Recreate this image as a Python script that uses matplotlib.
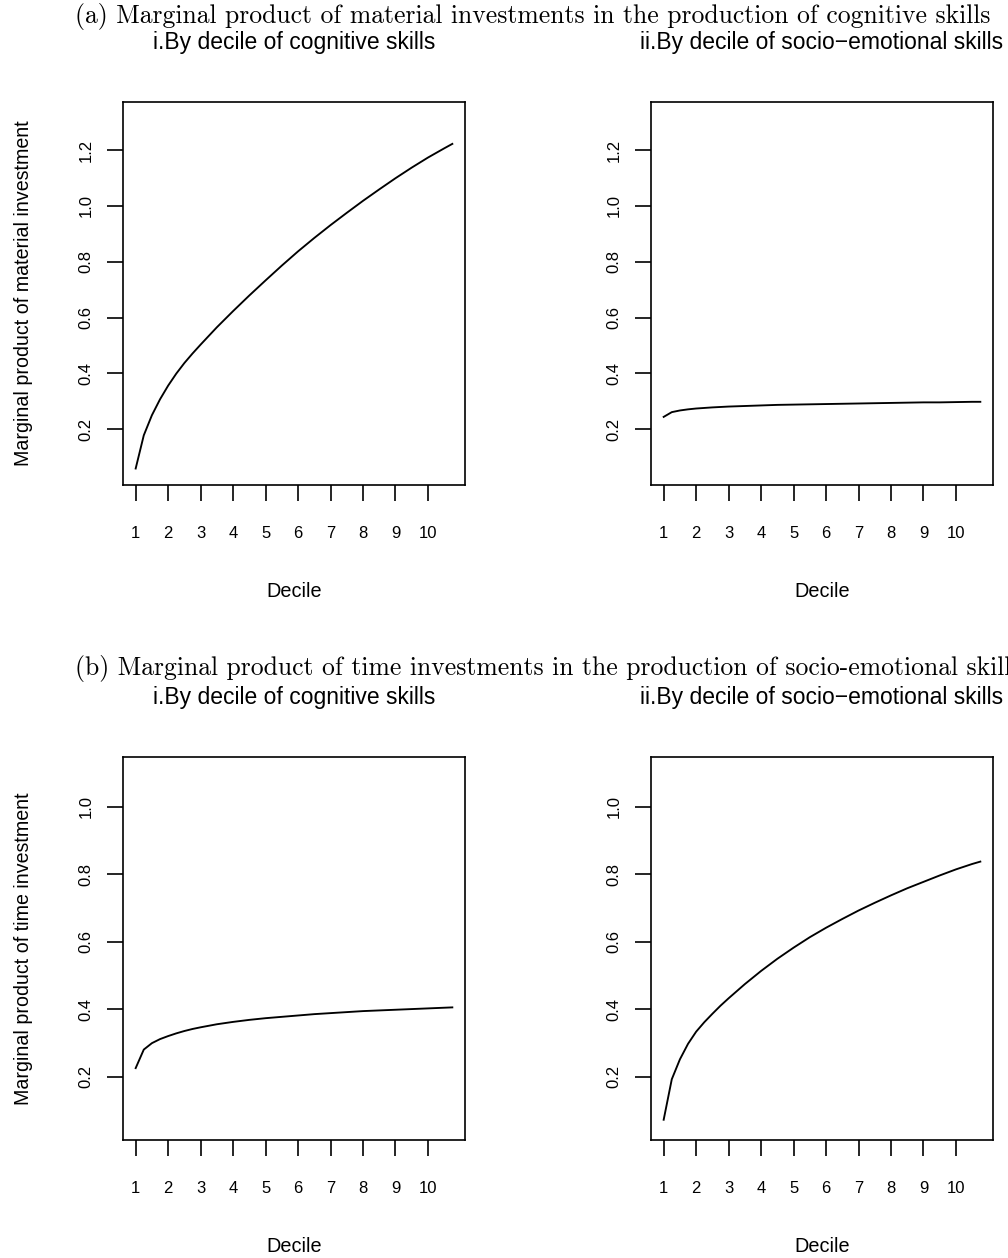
import matplotlib
matplotlib.use("Agg")
import matplotlib.pyplot as plt

plt.rcParams["font.family"] = ["Liberation Sans", "DejaVu Sans"]

# decile grid the curves were evaluated on
decile = [1, 1.25, 1.5, 1.75, 2, 2.25, 2.5, 2.75, 3, 3.5, 4, 4.5, 5, 5.5,
          6, 6.5, 7, 7.5, 8, 8.5, 9, 9.5, 10, 10.5, 10.75]

# (a) material investments -> cognitive skills
mat_by_cog = [0.059, 0.178, 0.250, 0.307, 0.356, 0.399, 0.437, 0.471, 0.503,
              0.565, 0.623, 0.679, 0.733, 0.786, 0.837, 0.885, 0.931, 0.975,
              1.018, 1.059, 1.099, 1.137, 1.173, 1.206, 1.222]
mat_by_soc = [0.244, 0.261, 0.267, 0.271, 0.274, 0.276, 0.278, 0.2795, 0.281,
              0.283, 0.285, 0.287, 0.288, 0.289, 0.290, 0.291, 0.292, 0.293,
              0.294, 0.295, 0.296, 0.296, 0.297, 0.298, 0.298]

# (b) time investments -> socio-emotional skills
time_by_cog = [0.226, 0.281, 0.300, 0.312, 0.321, 0.329, 0.336, 0.342, 0.347,
               0.356, 0.363, 0.369, 0.374, 0.378, 0.382, 0.386, 0.389, 0.392,
               0.395, 0.397, 0.399, 0.401, 0.403, 0.405, 0.406]
time_by_soc = [0.073, 0.193, 0.252, 0.298, 0.334, 0.362, 0.387, 0.411, 0.433,
               0.475, 0.514, 0.550, 0.583, 0.614, 0.642, 0.668, 0.693, 0.716,
               0.738, 0.759, 0.778, 0.797, 0.815, 0.831, 0.838]

xticks = list(range(1, 11))
yticks_a = [0.2, 0.4, 0.6, 0.8, 1.0, 1.2]
yticks_b = [0.2, 0.4, 0.6, 0.8, 1.0]

sup_a = "(a) Marginal product of material investments in the production of cognitive skills"
sup_b = "(b) Marginal product of time investments in the production of socio-emotional skills"
title_i = "i.By decile of cognitive skills"
title_ii = "ii.By decile of socio\u2212emotional skills"
ylab_a = "Marginal product of material investment"
ylab_b = "Marginal product of time investment"

W, H = 1008, 1258
fig = plt.figure(figsize=(W / 100, H / 100), dpi=100)
fig.patch.set_facecolor("white")


def panel(left_px, bottom_px, y, yticks, ylim, title, ylabel=None):
    ax = fig.add_axes([left_px / W, 1 - bottom_px / H, 342 / W, 383 / H])
    ax.plot(decile, y, color="black", linewidth=1.35)
    ax.set_xlim(0.61, 11.14)
    ax.set_ylim(*ylim)
    ax.set_xticks(xticks)
    ax.set_xticklabels([str(v) for v in xticks])
    ax.set_yticks(yticks)
    ax.set_yticklabels([f"{v:.1f}" for v in yticks], rotation=90, va="center")
    ax.tick_params(axis="both", direction="out", length=11.2, width=1.2,
                   labelsize=12)
    ax.tick_params(axis="x", pad=18)
    ax.tick_params(axis="y", pad=10)
    for s in ax.spines.values():
        s.set_linewidth(1.2)
    ax.set_title(title, fontsize=16.5, pad=38)
    ax.set_xlabel("Decile", fontsize=14.3, labelpad=30)
    if ylabel:
        ax.text(-0.292, 0.5, ylabel, transform=ax.transAxes, rotation=90,
                ha="center", va="center", fontsize=14.1)
    return ax


panel(123, 485, mat_by_cog, yticks_a, (0.0, 1.372), title_i, ylab_a)
panel(651, 485, mat_by_soc, yticks_a, (0.0, 1.372), title_ii)
panel(123, 1140, time_by_cog, yticks_b, (0.013, 1.148), title_i, ylab_b)
panel(651, 1140, time_by_soc, yticks_b, (0.013, 1.148), title_ii)

fig.text(75 / W, 1 - 16 / H, sup_a, family="cmr10", fontsize=18.5,
         ha="left", va="center")
fig.text(75 / W, 1 - 668 / H, sup_b, family="cmr10", fontsize=18.5,
         ha="left", va="center")

fig.savefig("out.png", dpi=100, facecolor="white")
